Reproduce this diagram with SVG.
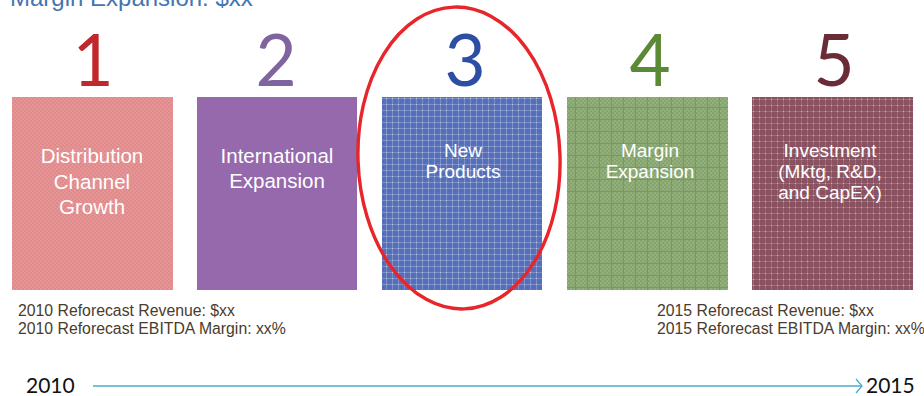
<svg xmlns="http://www.w3.org/2000/svg" width="924" height="396" viewBox="0 0 924 396">
  <style>
    .num { font-family: Lato, "Open Sans", sans-serif; font-size: 71px; text-anchor: middle; }
    .lbl { font-family: "Liberation Sans", Arial, sans-serif; font-size: 20.5px; fill: #ffffff; text-anchor: middle; }
    .lbl-s { font-family: "Liberation Sans", Arial, sans-serif; font-size: 19px; fill: #ffffff; text-anchor: middle; }
    .note { font-family: "Liberation Sans", Arial, sans-serif; font-size: 15.8px; fill: #4a3b2c; }
    .year { font-family: Lato, "Open Sans", sans-serif; font-size: 21px; fill: #111111; }
    .title { font-family: "Liberation Sans", Arial, sans-serif; font-size: 24px; fill: #4575b0; }
  </style>
  <defs>
    <!-- fine checker for the pink box -->
    <pattern id="pat-pink" width="4" height="4" patternUnits="userSpaceOnUse">
      <rect width="4" height="4" fill="#e18a8b"/>
      <rect width="2" height="2" fill="#e59596"/>
      <rect x="2" y="2" width="2" height="2" fill="#e59596"/>
    </pattern>
    <!-- woven grid for the blue box -->
    <pattern id="pat-blue" width="6" height="6" patternUnits="userSpaceOnUse">
      <rect width="6" height="6" fill="#5670b9"/>
      <rect y="2" width="6" height="1" fill="#7a8fca"/>
      <rect x="2" width="1" height="6" fill="#7a8fca"/>
      <rect x="2" y="2" width="1" height="1" fill="#b9c4e6"/>
      <rect x="5" y="5" width="1" height="1" fill="#4a62a8"/>
    </pattern>
    <!-- checker with grid for the green box -->
    <pattern id="pat-green" width="12" height="12" patternUnits="userSpaceOnUse">
      <rect width="12" height="12" fill="#93b07c"/>
      <path d="M0 0h2v2h-2zM4 0h2v2h-2zM8 0h2v2h-2zM2 2h2v2h-2zM6 2h2v2h-2zM10 2h2v2h-2zM0 4h2v2h-2zM4 4h2v2h-2zM8 4h2v2h-2zM2 6h2v2h-2zM6 6h2v2h-2zM10 6h2v2h-2zM0 8h2v2h-2zM4 8h2v2h-2zM8 8h2v2h-2zM2 10h2v2h-2zM6 10h2v2h-2zM10 10h2v2h-2z" fill="#86a56e"/>
      <rect y="11" width="12" height="1" fill="#769a5c"/>
      <rect x="11" width="1" height="12" fill="#769a5c"/>
    </pattern>
    <!-- dotted grid for the maroon box -->
    <pattern id="pat-maroon" width="6" height="6" patternUnits="userSpaceOnUse">
      <rect width="6" height="6" fill="#8a5261"/>
      <rect y="3" width="6" height="1" fill="#9c6c79"/>
      <rect x="3" width="1" height="6" fill="#9c6c79"/>
      <rect x="3" y="3" width="1" height="1" fill="#cbafb7"/>
    </pattern>
    <marker id="chev" markerWidth="8" markerHeight="16" refX="7" refY="8" orient="auto" markerUnits="userSpaceOnUse">
      <path d="M1 1 L7 8 L1 15" fill="none" stroke="#4aaccb" stroke-width="1.3"/>
    </marker>
  </defs>

  <text class="title" x="10" y="6">Margin Expansion: $xx</text>

  <g id="step1">
    <text class="num" x="93" y="86" fill="#c1272d">1</text>
    <rect x="12" y="97" width="161" height="193" fill="url(#pat-pink)"/>
    <text class="lbl" x="92" y="163">Distribution</text>
    <text class="lbl" x="92" y="189">Channel</text>
    <text class="lbl" x="92" y="214">Growth</text>
  </g>

  <g id="step2">
    <text class="num" x="276" y="86" fill="#7f64a0">2</text>
    <rect x="197" y="97" width="160" height="193" fill="#9569ab"/>
    <text class="lbl" x="277" y="163">International</text>
    <text class="lbl" x="277" y="188">Expansion</text>
  </g>

  <g id="step3">
    <text class="num" x="465" y="86" fill="#2c4ea3">3</text>
    <rect x="382" y="97" width="160" height="193" fill="url(#pat-blue)"/>
    <text class="lbl-s" x="463" y="157">New</text>
    <text class="lbl-s" x="463" y="178">Products</text>
  </g>

  <g id="step4">
    <text class="num" x="650" y="86" fill="#5a8a36">4</text>
    <rect x="567" y="97" width="161" height="193" fill="url(#pat-green)"/>
    <text class="lbl-s" x="650" y="157">Margin</text>
    <text class="lbl-s" x="650" y="178">Expansion</text>
  </g>

  <g id="step5">
    <text class="num" x="834" y="86" fill="#6a2d38">5</text>
    <rect x="752" y="97" width="161" height="193" fill="url(#pat-maroon)"/>
    <text class="lbl-s" x="830" y="157">Investment</text>
    <text class="lbl-s" x="830" y="178">(Mktg, R&amp;D,</text>
    <text class="lbl-s" x="830" y="199">and CapEX)</text>
  </g>

  <g id="highlight">
    <ellipse cx="459" cy="158" rx="101" ry="151" transform="rotate(-2 459 158)" fill="none" stroke="#e8252b" stroke-width="3.4"/>
  </g>

  <g id="start-notes">
    <text class="note" x="18" y="316">2010 Reforecast Revenue: $xx</text>
    <text class="note" x="18" y="334">2010 Reforecast EBITDA Margin: xx%</text>
  </g>

  <g id="end-notes">
    <text class="note" x="657" y="316">2015 Reforecast Revenue: $xx</text>
    <text class="note" x="657" y="334">2015 Reforecast EBITDA Margin: xx%</text>
  </g>

  <g id="connectors">
    <line x1="93" y1="386" x2="862" y2="386" stroke="#4aaccb" stroke-width="1.3" marker-end="url(#chev)"/>
  </g>

  <g id="timeline-labels">
    <text class="year" x="26" y="393">2010</text>
    <text class="year" x="866" y="393">2015</text>
  </g>
</svg>
